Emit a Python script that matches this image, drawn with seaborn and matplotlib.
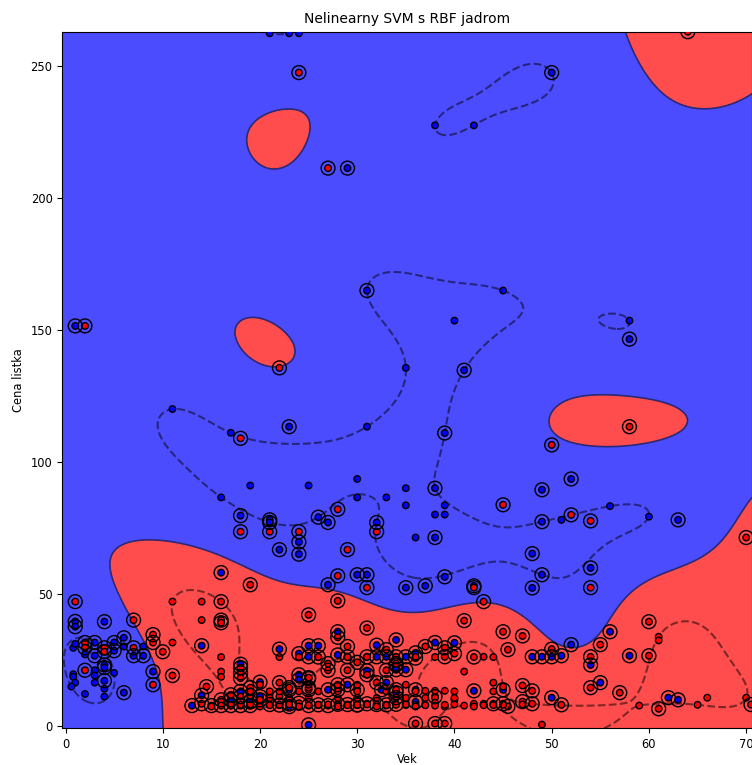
import numpy as np
import pandas as pd
import matplotlib
matplotlib.use("Agg")
import matplotlib.pyplot as plt
import seaborn as sns

# ---- data (age = Vek, fare = Cena listka) ----
# support vectors (circled), class "blue"
blue_sv_age = [50,29,1,31,58,41,23,39,52,49,38,18,21,21,26,27,32,22,24,24,16,27,30,31,35,37,39,42,49,63,48,49,48,54,38,
               1,1,4,14,6,5,3,5,7,8,3,4,4,9,4,6,18,20,14,13,15,18,17,18,19,
               28,22,24,25,26,25,28,29,32,32,33,34,35,36,38,40,31,34,34,35,24,24,23,27,29,30,33,32.5,34,36,42,25,20,23,27,30,36,38,
               48,49,50,51,52,56,54,58,45,44,45,50,55,62,63]
blue_sv_fare = [247.5,211.3,151.5,164.9,146.5,134.7,113.3,110.9,93.5,89.4,90,79.6,78,77,79,77,77,66.7,69.6,65,58,53.4,57.2,57.2,52.3,53,56.4,53,77.3,78,65.2,57.2,52.2,59.8,71.3,
                39.5,37.5,39.4,30.3,33.3,31.5,31.5,28.4,26.5,26.5,26.5,23,22,20.5,17,12.5,23.3,16.5,11.5,7.6,7.6,7.6,9.8,13,9,
                35.6,29,27.3,30.3,30.3,26.1,26.8,26.1,30.5,26.1,26.1,32.5,26.1,27.6,31.5,31.4,20.8,23,21.2,21.2,19.3,17.4,13.6,13.6,15.5,13.6,16.3,13.6,12.5,13.6,13.2,0.3,11,7.2,7.6,7.9,9,11,
                26.1,26.1,26.1,26.5,30.7,35.6,23,26.5,13.6,8.3,8.3,10.6,16.3,10.6,9.8]
# support vectors (circled), class "red"
red_sv_age = [24,64,27,2,22,18,50,58,28,45,52,54,18,21,24,32,29,28,19,31,42,54,28,43,16,1,70,25,16,16,7,41,31,28,9,9,2,2,4,4,7,10,2,9,11,18,18,18,14.5,14,16,16,17,19,17,18,19,19,
              26,29,30,27,29,31,33,33,34,34,36,37,39,39,40,42,27,31,32,34,34,25,25,22,23,22,28,28,25,25,25,36,38,39,
              45,47,45.5,50,55,54,60,60,47,48,45.5,47,48,51,54,57,61,70.5,21,24,29,32,20,22,23,26,28,30,31,33,34]
red_sv_fare = [247.5,263,211.3,151.5,135.6,108.9,106.4,113.3,82,83.7,79.9,77.6,73.5,73.5,73.5,73.5,66.7,56.8,53.4,52.3,52.3,52.3,47.3,47,47,47,71.3,42,40,39,40,39.8,37,33.5,34.5,31.5,31.5,29.5,29.5,28,29.5,28,21,15.5,19,22,20,18,14.8,8.3,9.8,7.6,7.6,7.6,11.7,11,11.4,14.4,
               26,30,24,21,21,26.1,28.8,21,26.1,23.5,25.6,30,29.5,26.1,27.3,26,23.5,19.3,16.3,10.6,13.6,17.8,13.6,16.3,14.4,11,13.6,15.5,7.6,14.4,18.2,0.8,0.8,0.8,
               35.6,34,28.8,29,30.7,26.1,26.5,39.4,15.2,13.2,7.3,9.1,8.3,7.9,14.4,12.5,6.4,8,8,8.5,8,8,9.8,7.8,8.2,7.9,8.1,7.8,8.3,7.9,8.1]
# other points, class "red"
red_age = [11,14,14,11,16,16,16,61,61,41,43,44,44,45,42,43,37,38,39,38,38,39,40,41,38,49,59,65,66,70,35,36,37,44,26,28,30,33,
           15,17,18,19,20,21,22,23,24,25,26,27,28,29,30,31,32,33,34,35,36,37,39,40,42,43,45,47,
           19,21,22,24,26,28,30,33,36,40,44,21,23,25,28,30,32,35,37,40,22,24,26,29,31,34,36,38,20,25,30,35]
red_fare = [47,47,40,31.5,26,20.5,18.5,33.7,32.3,20.5,26.1,26,16.3,14.8,8.3,8.3,13.2,13.2,13.2,10.6,8.7,7.2,9.8,7.6,7.6,0.4,7.6,7.9,10.6,10.6,7.8,7.8,7.8,7.8,7.8,7.8,7.8,7.8,
            7.25,7.75,7.9,8.05,7.25,7.75,7.9,8.05,7.25,7.75,7.9,8.05,7.25,7.75,7.9,8.05,7.25,7.75,7.9,8.05,7.25,7.75,7.9,8.05,7.25,7.75,7.9,8.05,
            13,13,13,13,13,13,13,13,13,13,13,10.5,10.5,10.5,10.5,10.5,10.5,10.5,10.5,10.5,26,26,26,26,26,26,26,26,15.5,15.5,15.5,15.5]
# other points, class "blue"
blue_age = [21,23,24,38,42,35,45,40,58,11,17,31,16,19,25,30,30,33,35,35,39,38,39,36,56,51,60,0.8,0.8,0.8,3,1,0.6,4,4,
            1,2,3,5,6,2,3,8]
blue_fare = [262.4,262.4,262.4,227.5,227.5,135.6,164.9,153.5,153.5,120,111,113.3,86.5,91,91,93.5,86.5,86.5,90,83.5,83.5,80,80,71.3,83.2,78,79.2,29.5,19.5,18.5,16.3,16.3,14.8,14,11,
             31,27,21,20,30,12,19,30]

# model settings (RBF kernel on standardized features)
GAMMA = 3.0
C_REG = 0.8

age = np.array(blue_sv_age + blue_age + red_sv_age + red_age, float)
fare = np.array(blue_sv_fare + blue_fare + red_sv_fare + red_fare, float)
lab = np.array([0] * (len(blue_sv_age) + len(blue_age)) + [1] * (len(red_sv_age) + len(red_age)))
df = pd.DataFrame({"Vek": age, "Cena listka": fare, "trieda": lab})

mu = np.array([age.mean(), fare.mean()])
sd = np.array([age.std(), fare.std()])
X = (np.c_[age, fare] - mu) / sd
y = np.where(lab == 1, 1.0, -1.0)

# simple dual coordinate-descent SVM (bias absorbed into kernel)
d2 = ((X[:, None, :] - X[None, :, :]) ** 2).sum(-1)
Q = (y[:, None] * y[None, :]) * (np.exp(-GAMMA * d2) + 1.0)
alpha = np.zeros(len(y))
rng = np.random.default_rng(0)
for ep in range(250):
    for i in rng.permutation(len(y)):
        g = Q[i] @ alpha - 1.0
        alpha[i] = min(max(alpha[i] - g / Q[i, i], 0.0), C_REG)
coef = alpha * y

x_min, x_max = -0.33, 70.6
y_min, y_max = -1.0, 263.0
xs = np.linspace(x_min, x_max, 320)
ys = np.linspace(y_min, y_max, 320)
xx, yy = np.meshgrid(xs, ys)
G = (np.c_[xx.ravel(), yy.ravel()] - mu) / sd
f = np.empty(len(G))
for s in range(0, len(G), 8000):
    blk = G[s:s + 8000]
    dd = (blk ** 2).sum(1)[:, None] + (X ** 2).sum(1)[None, :] - 2 * blk @ X.T
    f[s:s + 8000] = (np.exp(-GAMMA * dd) + 1.0) @ coef
Z = f.reshape(xx.shape)

fig = plt.figure(figsize=(7.52, 7.65), dpi=100)
ax = fig.add_axes([62.3 / 752, (765 - 728.3) / 765, (752 - 62.3) / 752, (728.3 - 31.7) / 765])

ax.contourf(xx, yy, Z, levels=[-1e9, 0, 1e9], colors=["#0000ff", "#ff0000"], alpha=0.7)
ax.contour(xx, yy, Z, levels=[-1, 1], colors="k", linestyles="--", alpha=0.5, linewidths=1.5)
ax.contour(xx, yy, Z, levels=[0], colors="#2a2a78", linestyles="-", linewidths=1.2)

sns.scatterplot(data=df, x="Vek", y="Cena listka", hue="trieda", palette={0: "#0000ff", 1: "#ff0000"},
                s=22, edgecolor="k", linewidth=1.0, legend=False, ax=ax, zorder=3)

sv_age = np.array(blue_sv_age + red_sv_age, float)
sv_fare = np.array(blue_sv_fare + red_sv_fare, float)
ax.scatter(sv_age, sv_fare, s=100, facecolors="none", edgecolors="k", linewidths=1.0, zorder=4)

ax.set_xlim(x_min, x_max)
ax.set_ylim(y_min, y_max)
ax.set_xticks([0, 10, 20, 30, 40, 50, 60, 70])
ax.set_yticks([0, 50, 100, 150, 200, 250])
ax.tick_params(labelsize=8.3)
ax.set_xlabel("Vek", fontsize=8.3, labelpad=1.5)
ax.set_ylabel("Cena listka", fontsize=8.3)
ax.set_title("Nelinearny SVM s RBF jadrom", fontsize=10)

fig.savefig("out.png", dpi=100)
